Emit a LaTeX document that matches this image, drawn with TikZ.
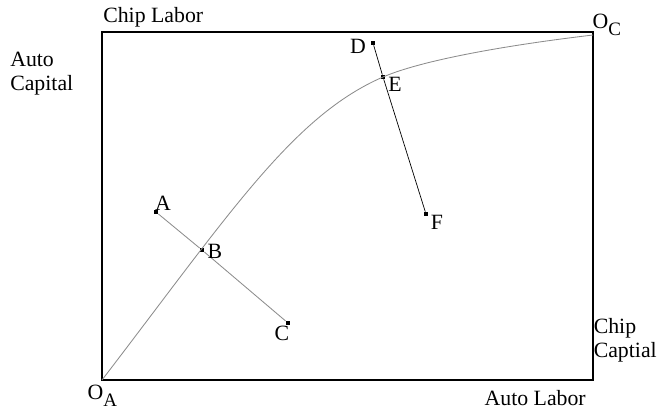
\documentclass[tikz,border=0pt]{standalone}
\usepackage{fontspec}
\setmainfont{Liberation Serif}
\usetikzlibrary{positioning}

\newcommand{\orig}[1]{O\raisebox{-0.7ex}{\fontsize{13.5}{13.5}\selectfont #1}}

\begin{document}
\begin{tikzpicture}[
  x=0.025cm,y=-0.025cm,
  font=\fontsize{15.5}{17}\selectfont,
  frame/.style={draw=black,line width=1.6pt},
  contract/.style={draw=black!45,line width=0.6pt},
  segA/.style={draw=black!45,line width=0.6pt},
  segD/.style={draw=black,line width=0.5pt},
  pt/.style={fill=black,inner sep=0pt,minimum size=3pt,rectangle},
  lbl/.style={inner sep=1pt},
  axlbl/.style={align=left,inner sep=0pt}
]
\useasboundingbox (0,0) rectangle (657,409);
% ---------- Edgeworth box ----------
\coordinate (oa) at (102,380);
\coordinate (oc) at (593,32);
\draw[frame] (oa) rectangle (oc);
\node[lbl,anchor=north west] (oalbl) at (86,383) {\orig{A}};
\node[lbl,anchor=north west] (oclbl) at (591,12) {\orig{C}};
\node[axlbl,anchor=south west] (chiplab) at (103,27) {Chip Labor};
\node[axlbl,anchor=west] (autocap) at (10,74) {Auto\\Capital};
\node[axlbl,anchor=east] (chipcap) at (657,340) {Chip\\Captial};
\node[axlbl,anchor=north east] (autolab) at (586,390) {Auto Labor};
% ---------- points ----------
\node[pt] (A) at (156,212) {};
\node[pt] (B) at (202,250) {};
\node[pt] (C) at (288,323) {};
\node[pt] (D) at (373,43) {};
\node[pt] (E) at (383,77) {};
\node[pt] (F) at (426,214) {};
% ---------- contract curve ----------
\draw[contract] (oa) .. controls (230,213) and (293,116) .. (E.center)
  .. controls (420,61) and (500,46) .. (593,35);
\draw[segA] (A) -- (B) -- (C);
\draw[segD] (D) -- (E) -- (F);
\node[lbl] (Alb) at (163,203) {A};
\node[lbl] (Blb) at (215,251) {B};
\node[lbl] (Clb) at (282,333) {C};
\node[lbl] (Dlb) at (358,46) {D};
\node[lbl] (Elb) at (395,84) {E};
\node[lbl] (Flb) at (437,222) {F};
\end{tikzpicture}
\end{document}
